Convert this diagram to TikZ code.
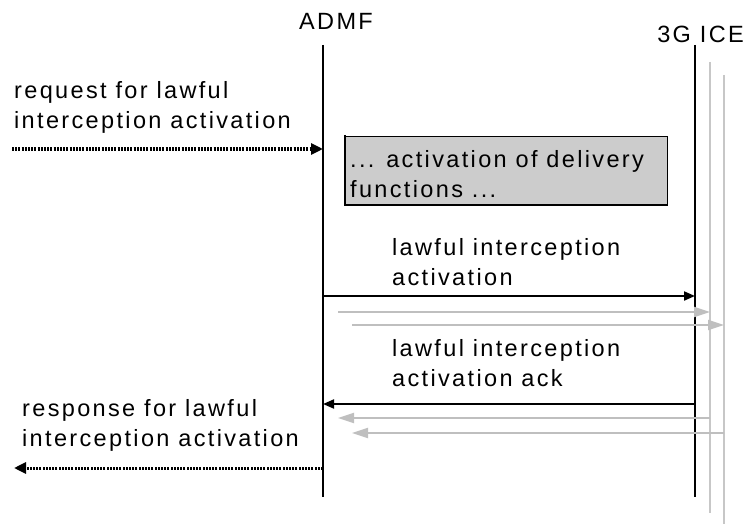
\documentclass[tikz,border=0pt]{standalone}
\usepackage{fontspec}
\setmainfont{Liberation Sans}[LetterSpace=10]
\usetikzlibrary{arrows.meta}

\tikzset{
  life/.style={line width=1.5pt},
  ghost/.style={line width=2pt,draw=black!22},
  msg/.style={line width=2pt,-{Triangle[length=11pt,width=9pt]}},
  ghostmsg/.style={line width=2pt,draw=black!25,-{Triangle[length=16pt,width=10pt,fill=black!25]}},
  extmsg/.style={line width=3pt,dash pattern=on 2pt off 1.2pt,-{Triangle[length=12pt,width=11pt]}},
  txt/.style={anchor=west,align=left,inner sep=0pt}
}

\begin{document}
\begin{tikzpicture}[x=1pt,y=-1pt,font=\fontsize{23.5}{30}\selectfont]
\useasboundingbox (0,0) rectangle (744,524);
% lifelines
\node[anchor=base] (admf) at (336,30) {ADMF};
\node[anchor=base east,inner sep=0pt] (ice) at (744,43) {3G ICE};
\coordinate (admftop) at (323,45);
\coordinate (admfbot) at (323,497);
\coordinate (icetop) at (695,45);
\coordinate (icebot) at (695,497);
\coordinate (ghostatop) at (710,62);
\coordinate (ghostabot) at (710,513);
\coordinate (ghostbtop) at (724,75);
\coordinate (ghostbbot) at (724,524);
\draw[ghost] (ghostatop) -- (ghostabot);
\draw[ghost] (ghostbtop) -- (ghostbbot);
\draw[life] (admftop) -- (admfbot);
\draw[life] (icetop) -- (icebot);

% request
\node[txt] (req) at (14,107) {request for lawful\\interception activation};
\coordinate (reqstart) at (12,149);
\draw[extmsg] (reqstart) -- (reqstart -| admftop);

% delivery functions box
\draw[fill=black!20,line width=0.8pt] (345,136) rectangle (667,205);
\draw[line width=2.5pt] (345,135) -- (345,205) -- (667,205);
\node[txt] (deliv) at (350,174) {... activation of delivery\\functions ...};

% activation
\node[txt] (act) at (392,262) {lawful interception\\activation};
\coordinate (actstart) at (323,296);
\draw[msg] (actstart) -- (actstart -| icetop);
\coordinate (acta) at (338,312);
\draw[ghostmsg] (acta) -- (acta -| ghostatop);
\coordinate (actb) at (352,325);
\draw[ghostmsg] (actb) -- (actb -| ghostbtop);

% ack
\node[txt] (ack) at (392,363) {lawful interception\\activation ack};
\coordinate (ackstart) at (695,404);
\draw[msg] (ackstart) -- (ackstart -| admftop);
\coordinate (acka) at (710,418);
\draw[ghostmsg] (acka) -- (338,418);
\coordinate (ackb) at (724,433);
\draw[ghostmsg] (ackb) -- (352,433);

% response
\node[txt] (resp) at (22,425) {response for lawful\\interception activation};
\coordinate (respstart) at (323,468);
\draw[extmsg] (respstart) -- (14,468);
\end{tikzpicture}
\end{document}
